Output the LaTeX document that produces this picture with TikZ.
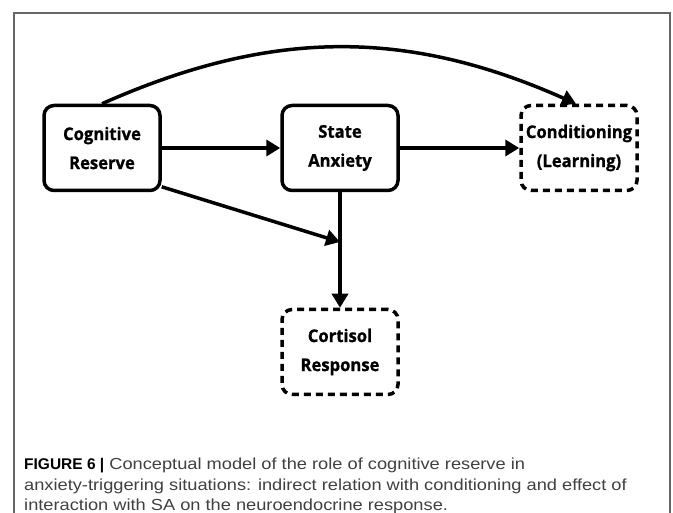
\documentclass[tikz,border=0pt]{standalone}
\usepackage{fontspec}
\setmainfont{Liberation Sans}
\newfontfamily\boxfont{Open Sans}[FakeStretch=0.95,FakeBold=1]
\newfontfamily\capfont{Liberation Sans}[FakeStretch=1.14]
\newfontfamily\tagfont{Liberation Sans}
\usetikzlibrary{arrows.meta}

\tikzset{
  box/.style={draw, line width=3.5pt, rounded corners=10pt,
    minimum width=116pt, minimum height=85pt, inner sep=0pt, align=center,
    font=\boxfont\bfseries\fontsize{17.5}{29}\selectfont},
  latent/.style={box, dash pattern=on 7pt off 5pt},
  link/.style={line width=3.5pt, -{Triangle[length=14pt,width=16pt]}},
}

\begin{document}
\begin{tikzpicture}[x=1pt,y=-1pt]
  \useasboundingbox (0,0) rectangle (673,513);
  % frame of the figure
  \draw [black!60, line width=1.2pt] (14,513) -- (14,13) -- (670,13) -- (670,513);

  % model
  \node [box] (cr) at (102,148) {Cognitive\\Reserve};
  \node [box] (sa) at (340,148) {State\\Anxiety};
  \node [latent] (cond) at (579,148) {Conditioning\\(Learning)};
  \node [latent] (cort) at (340,352) {Cortisol\\Response};
  \coordinate (join) at (340,242);

  \draw [link] (cr) -- (sa);
  \draw [link] (sa) -- (cond);
  \draw [link] (sa) -- (cort);
  \draw [link] (cr.-33) -- (join);
  \draw [link] (cr.north) to [bend left=24] ([xshift=-3pt]cond.north);

  % caption
  \node [anchor=north west, inner sep=0pt, align=left, text=black!75,
    font=\capfont\fontsize{16}{20.5}\selectfont] (caption) at (24,458)
    {{\color{black}\tagfont\fontsize{15.5}{20.5}\selectfont\bfseries FIGURE 6 |} Conceptual model of the role of cognitive reserve in\\
     anxiety-triggering situations: indirect relation with conditioning and effect of\\
     interaction with SA on the neuroendocrine response.};
\end{tikzpicture}
\end{document}
